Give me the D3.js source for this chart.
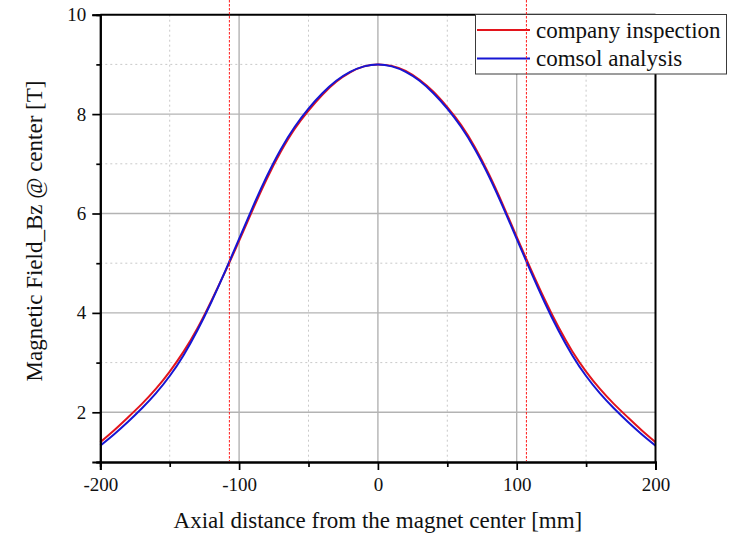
<!DOCTYPE html>
<html>
<head>
<meta charset="utf-8">
<script src="https://cdn.jsdelivr.net/npm/d3@7/dist/d3.min.js"></script>
<style>
  html, body { margin: 0; padding: 0; background: #fff; }
  svg { display: block; }
  text { font-family: "Liberation Serif", "Times New Roman", serif; fill: #111; }
</style>
</head>
<body>
<svg id="chart" width="735" height="535"></svg>
<script>
// Axial position along the magnet bore [mm]
const positions = [-200,-190,-180,-170,-160,-150,-140,-130,-120,-110,-100,-90,-80,-70,-60,-50,-40,-30,-20,-10,
  0,10,20,30,40,50,60,70,80,90,100,110,120,130,140,150,160,170,180,190,200];

// Measured field from the manufacturer's inspection [T]
const companyInspection = [1.40,1.64,1.90,2.17,2.47,2.82,3.22,3.69,4.24,4.83,5.45,6.09,6.70,7.24,7.70,8.07,8.39,8.65,8.84,8.96,
  9.00,8.97,8.87,8.69,8.45,8.14,7.78,7.33,6.79,6.18,5.53,4.89,4.28,3.72,3.23,2.82,2.47,2.17,1.90,1.64,1.40];

// Simulated field from the COMSOL model [T]
const comsolAnalysis = [1.33,1.56,1.81,2.08,2.38,2.73,3.15,3.65,4.22,4.84,5.49,6.14,6.75,7.29,7.74,8.11,8.42,8.67,8.85,8.96,
  9.00,8.96,8.85,8.67,8.42,8.11,7.74,7.29,6.75,6.14,5.49,4.84,4.22,3.65,3.15,2.73,2.38,2.08,1.81,1.56,1.33];

// Reference markers at the coil ends [mm]
const markerPositions = [-107, 107];

const xMajorTicks = [-200, -100, 0, 100, 200];
const xMinorTicks = [-150, -50, 50, 150];
const yMajorTicks = [2, 4, 6, 8, 10];
const yMinorTicks = [1, 3, 5, 7, 9];

const seriesNames = ["company inspection", "comsol analysis"];
const seriesColors = ["#e3141c", "#1616d4"];

const svg = d3.select("#chart");
const plotLeft = 100.3, plotRight = 655.5, plotTop = 14.7, plotBottom = 462;

const x = d3.scaleLinear().domain([-200, 200]).range([plotLeft, plotRight]);
const y = d3.scaleLinear().domain([1, 10]).range([plotBottom, plotTop]);

// Minor grid (dotted)
const grid = svg.append("g");
grid.selectAll(".vminor").data(xMinorTicks).enter().append("line")
  .attr("x1", d => x(d)).attr("x2", d => x(d)).attr("y1", plotTop).attr("y2", plotBottom)
  .attr("stroke", "#c9c9c9").attr("stroke-width", 1).attr("stroke-dasharray", "2,3");
grid.selectAll(".hminor").data(yMinorTicks.filter(v => v > 1)).enter().append("line")
  .attr("x1", plotLeft).attr("x2", plotRight).attr("y1", d => y(d)).attr("y2", d => y(d))
  .attr("stroke", "#c9c9c9").attr("stroke-width", 1).attr("stroke-dasharray", "2,3");

// Major grid (solid)
grid.selectAll(".vmajor").data(xMajorTicks.filter(v => v > -200 && v < 200)).enter().append("line")
  .attr("x1", d => x(d)).attr("x2", d => x(d)).attr("y1", plotTop).attr("y2", plotBottom)
  .attr("stroke", "#b3b3b3").attr("stroke-width", 1.4);
grid.selectAll(".hmajor").data(yMajorTicks.filter(v => v < 10)).enter().append("line")
  .attr("x1", plotLeft).attr("x2", plotRight).attr("y1", d => y(d)).attr("y2", d => y(d))
  .attr("stroke", "#b3b3b3").attr("stroke-width", 1.4);

// Field curves
const line = d3.line().x((d, i) => x(positions[i])).y(d => y(d)).curve(d3.curveNatural);
[companyInspection, comsolAnalysis].forEach((vals, k) => {
  svg.append("path").datum(vals)
    .attr("d", line)
    .attr("fill", "none")
    .attr("stroke", seriesColors[k])
    .attr("stroke-width", 2)
    .attr("stroke-linejoin", "round");
});

// Frame: top and right borders
svg.append("line").attr("x1", plotLeft).attr("x2", plotRight).attr("y1", plotTop).attr("y2", plotTop)
  .attr("stroke", "#000").attr("stroke-width", 2);
svg.append("line").attr("x1", plotRight).attr("x2", plotRight).attr("y1", plotTop).attr("y2", plotBottom)
  .attr("stroke", "#000").attr("stroke-width", 2);

// Axes
const fmt = d => String(d);
const xAxis = svg.append("g").attr("transform", `translate(0,${plotBottom})`)
  .call(d3.axisBottom(x).tickValues(xMajorTicks).tickSize(8).tickPadding(8).tickFormat(fmt));
const xAxisMinor = svg.append("g").attr("transform", `translate(0,${plotBottom})`)
  .call(d3.axisBottom(x).tickValues(xMinorTicks).tickSize(5).tickFormat(""));
const yAxis = svg.append("g").attr("transform", `translate(${plotLeft},0)`)
  .call(d3.axisLeft(y).tickValues(yMajorTicks).tickSize(8).tickPadding(6).tickFormat(fmt));
const yAxisMinor = svg.append("g").attr("transform", `translate(${plotLeft},0)`)
  .call(d3.axisLeft(y).tickValues(yMinorTicks).tickSize(4).tickFormat(""));

[xAxis, xAxisMinor, yAxis, yAxisMinor].forEach(g => {
  g.select(".domain").attr("stroke", "#000").attr("stroke-width", 2);
  g.selectAll(".tick line").attr("stroke", "#000").attr("stroke-width", 1.7);
  g.selectAll(".tick text").attr("font-family", "Liberation Serif, Times New Roman, serif")
    .attr("font-size", 19).attr("fill", "#111");
});

// Axis titles
svg.append("text")
  .attr("x", (plotLeft + plotRight) / 2).attr("y", 528)
  .attr("text-anchor", "middle").attr("font-size", 23)
  .text("Axial distance from the magnet center [mm]");
svg.append("text")
  .attr("transform", "translate(42,231) rotate(-90)")
  .attr("text-anchor", "middle").attr("font-size", 23)
  .text("Magnetic Field_Bz @ center [T]");

// Legend
const legend = svg.append("g");
legend.append("rect").attr("x", 475.5).attr("y", 14.5).attr("width", 251).attr("height", 59.5)
  .attr("fill", "#fff").attr("stroke", "#3a3a3a").attr("stroke-width", 1);
seriesNames.forEach((name, i) => {
  const cy = 30 + i * 28.5;
  legend.append("line").attr("x1", 477).attr("x2", 530).attr("y1", cy).attr("y2", cy)
    .attr("stroke", seriesColors[i]).attr("stroke-width", 2);
  legend.append("text").attr("x", 536).attr("y", cy + 7.5).attr("font-size", 23).text(name);
});

// Coil-end markers (dashed red verticals)
svg.selectAll(".marker").data(markerPositions).enter().append("line")
  .attr("x1", d => x(d)).attr("x2", d => x(d)).attr("y1", 0).attr("y2", plotBottom - 1)
  .attr("stroke", "#ff1a1a").attr("stroke-width", 1).attr("stroke-dasharray", "2.5,1.5");
</script>
</body>
</html>
